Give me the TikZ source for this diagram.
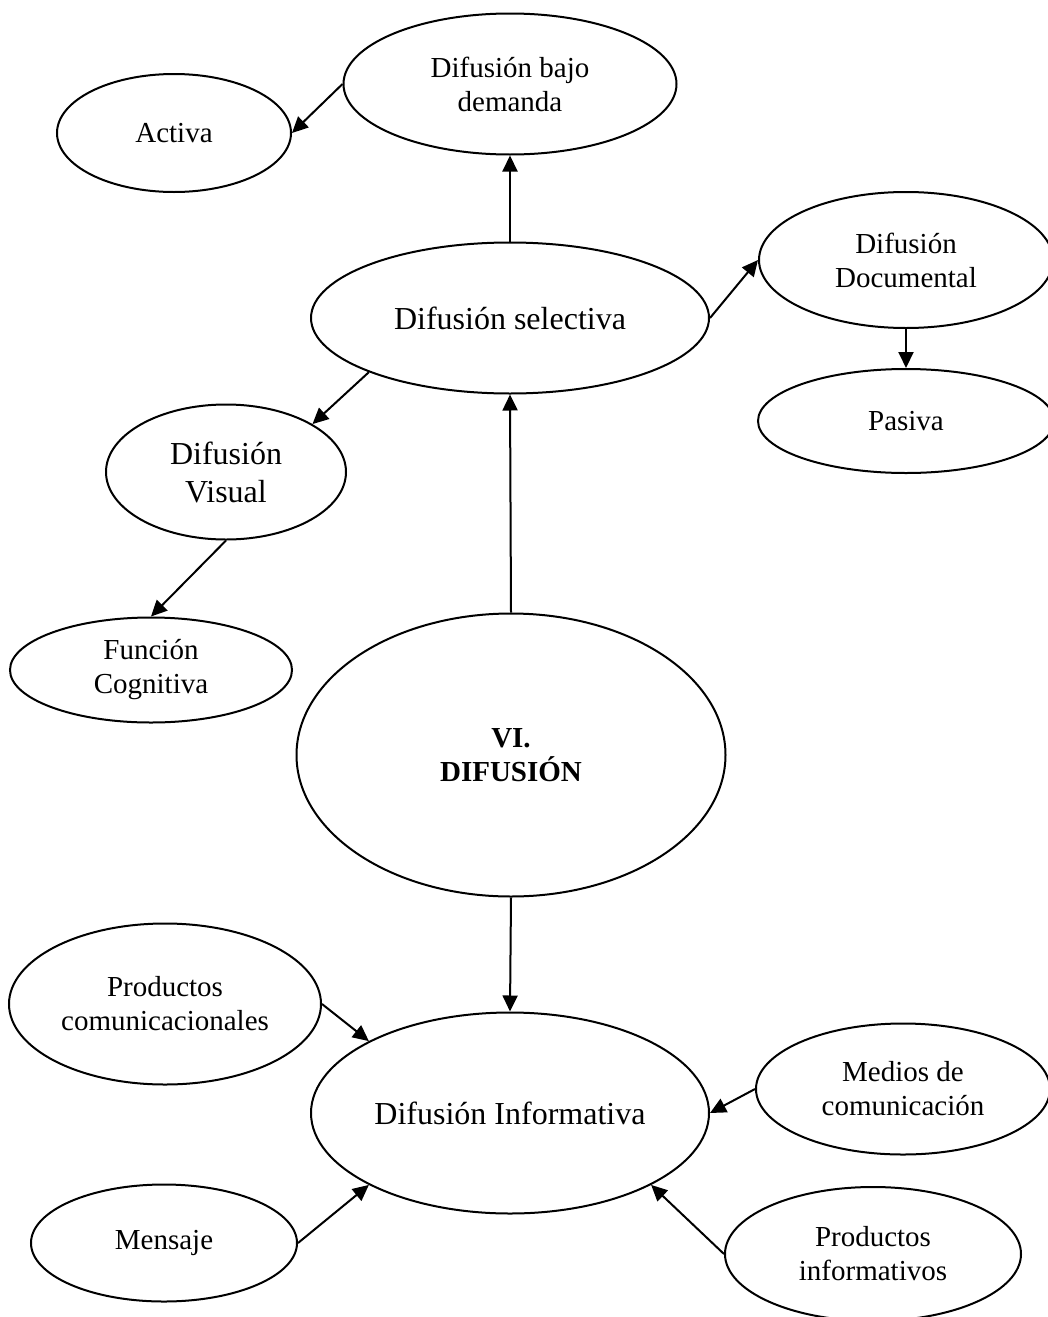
\documentclass[tikz,border=0pt]{standalone}
\usepackage{fontspec}
\setmainfont{Liberation Serif}
\usetikzlibrary{arrows.meta,shapes.geometric}
\tikzset{
  oval/.style={draw=black, line width=2pt, ellipse, inner sep=0pt, align=center, text=black},
  small/.style={font=\fontsize{29}{34}\selectfont},
  big/.style={font=\fontsize{32}{38}\selectfont},
  bigb/.style={font=\fontsize{29}{34}\selectfont\bfseries},
  arr/.style={line width=2pt, -{Triangle[length=16pt,width=15pt]}}
}
\begin{document}
\begin{tikzpicture}[x=1pt,y=-1pt]
\useasboundingbox[fill=white] (0,0) rectangle (1048,1317);
\node[oval,small,minimum width=333pt,minimum height=141pt] (dem) at (510,84) {Difusión bajo\\demanda};
\node[oval,small,minimum width=234pt,minimum height=118pt] (act) at (174,133) {Activa};
\node[oval,big,minimum width=398pt,minimum height=151pt] (sel) at (510,318) {Difusión selectiva};
\node[oval,small,minimum width=294pt,minimum height=136pt] (doc) at (906,260) {Difusión\\Documental};
\node[oval,small,minimum width=296pt,minimum height=104pt] (pas) at (906,421) {Pasiva};
\node[oval,big,minimum width=240pt,minimum height=135pt] (vis) at (226,472) {Difusión\\Visual};
\node[oval,small,minimum width=282pt,minimum height=105pt] (cog) at (151,670) {Función\\Cognitiva};
\node[oval,bigb,minimum width=429pt,minimum height=283pt] (vi) at (511,755) {VI.\\DIFUSIÓN};
\node[oval,small,minimum width=312pt,minimum height=161pt] (com) at (165,1004) {Productos\\comunicacionales};
\node[oval,big,minimum width=398pt,minimum height=201pt] (inf) at (510,1113) {Difusión Informativa};
\node[oval,small,minimum width=294pt,minimum height=131pt] (med) at (903,1089) {Medios de\\comunicación};
\node[oval,small,minimum width=266pt,minimum height=117pt] (men) at (164,1243) {Mensaje};
\node[oval,small,minimum width=296pt,minimum height=134pt] (pinf) at (873,1254) {Productos\\informativos};

\draw[arr] (dem.west) -- (act.east);
\draw[arr] (sel.north) -- (dem.south);
\draw[arr] (sel.east) -- (doc.west);
\draw[arr] (doc.south) -- (pas.north);
\draw[arr] (sel.201) -- (vis.29);
\draw[arr] (vis.south) -- (cog.north);
\draw[arr] (vi.north) -- (sel.south);
\draw[arr] (vi.south) -- (inf.north);
\draw[arr] (com.east) -- (inf.153);
\draw[arr] (med.west) -- (inf.east);
\draw[arr] (men.east) -- (inf.207);
\draw[arr] (pinf.west) -- (inf.333);
\end{tikzpicture}
\end{document}
